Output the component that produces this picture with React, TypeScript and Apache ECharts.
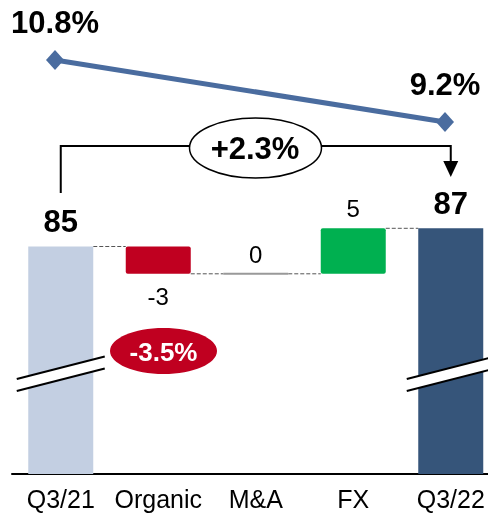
import React, { useEffect, useRef } from "react";
import * as echarts from "echarts";

const categories = ["Q3/21", "Organic", "M&A", "FX", "Q3/22"];
const values = [85, -3, 0, 5, 87];
const isTotal = [true, false, false, false, true];
const barColors = ["#C3CFE2", "#C00020", "#999999", "#00B050", "#36557A"];
const margins = [10.8, null, null, null, 9.2];
const growthLabel = "+2.3%";
const organicLabel = "-3.5%";

const AXIS_MIN = 60;
const AXIS_MAX = 100;
const FONT = "'Liberation Sans', Arial, sans-serif";

export default function App() {
  const ref = useRef<HTMLDivElement>(null);

  useEffect(() => {
    if (!ref.current) return;
    const chart = echarts.init(ref.current, null, { renderer: "svg" });

    // build waterfall rows: [index, start, end, value]
    let running = 0;
    const rows = values.map((v, i) => {
      let start: number, end: number;
      if (isTotal[i]) {
        start = AXIS_MIN;
        end = v;
        running = v;
      } else {
        start = running;
        end = running + v;
        running = end;
      }
      return [i, start, end, v];
    });

    const BW = 65;
    const renderItem = (params: any, api: any) => {
      const i = params.dataIndex;
      const cat = api.value(0);
      const start = api.value(1);
      const end = api.value(2);
      const val = api.value(3);
      const p0 = api.coord([cat, start]);
      const p1 = api.coord([cat, end]);
      const cx = p0[0];
      const x0 = cx - BW / 2;
      const yTop = Math.min(p0[1], p1[1]);
      const yBot = Math.max(p0[1], p1[1]);
      const children: any[] = [];
      // connector to next bar
      if (i < categories.length - 1) {
        const nx = api.coord([cat + 1, end])[0] - BW / 2;
        children.push({
          type: "line",
          shape: { x1: x0 + BW, y1: p1[1], x2: nx, y2: p1[1] },
          style: { stroke: "#555", lineWidth: 1, lineDash: [4, 2] },
        });
      }
      if (val === 0) {
        children.push({
          type: "line",
          shape: { x1: x0, y1: p1[1], x2: x0 + BW, y2: p1[1] },
          style: { stroke: barColors[i], lineWidth: 2 },
        });
      } else {
        children.push({
          type: "rect",
          shape: { x: x0, y: yTop, width: BW, height: yBot - yTop, r: isTotal[i] ? 0 : 2 },
          style: { fill: barColors[i] },
        });
      }
      // break marks on total bars
      if (isTotal[i]) {
        const l = cx - 44;
        const r = cx + 44;
        const a1 = yBot - 95;
        const b1 = yBot - 117.5;
        const g = 12;
        children.push({
          type: "polygon",
          shape: { points: [[l, a1], [r, b1], [r, b1 + g], [l, a1 + g]] },
          style: { fill: "#fff" },
        });
        children.push({
          type: "line",
          shape: { x1: l, y1: a1, x2: r, y2: b1 },
          style: { stroke: "#000", lineWidth: 2 },
        });
        children.push({
          type: "line",
          shape: { x1: l, y1: a1 + g, x2: r, y2: b1 + g },
          style: { stroke: "#000", lineWidth: 2 },
        });
      }
      // value label
      let ly: number;
      if (isTotal[i]) ly = yTop - 25;
      else if (val > 0) ly = yTop - 20;
      else if (val < 0) ly = yBot + 23;
      else ly = p1[1] - 19;
      children.push({
        type: "text",
        x: cx,
        y: ly,
        style: {
          text: String(val),
          fill: "#000",
          fontSize: isTotal[i] ? 31 : 24,
          fontWeight: isTotal[i] ? "bold" : "normal",
          fontFamily: FONT,
          align: "center",
          verticalAlign: "middle",
        },
      });
      return { type: "group", children };
    };

    const option: any = {
      animation: false,
      grid: [
        { left: 12, top: 110, width: 487.5, height: 364, outerBoundsMode: "none", containLabel: false },
        { left: 6.25, top: 52.25, width: 487.5, height: 77.5, outerBoundsMode: "none", containLabel: false },
      ],
      xAxis: [
        {
          type: "category",
          data: categories,
          gridIndex: 0,
          axisLine: { lineStyle: { color: "#000", width: 2 } },
          axisTick: { show: false },
          axisLabel: { interval: 0, fontSize: 25, color: "#000", margin: 12, fontFamily: FONT, hideOverlap: false },
        },
        { type: "category", data: categories, gridIndex: 1, show: false },
      ],
      yAxis: [
        { type: "value", min: AXIS_MIN, max: AXIS_MAX, show: false, gridIndex: 0, splitLine: { show: false } },
        { type: "value", min: 9, max: 11, show: false, gridIndex: 1, splitLine: { show: false } },
      ],
      series: [
        {
          type: "custom",
          xAxisIndex: 0,
          yAxisIndex: 0,
          renderItem,
          data: rows,
          clip: false,
        },
        {
          type: "line",
          xAxisIndex: 1,
          yAxisIndex: 1,
          data: margins,
          connectNulls: true,
          symbol: "diamond",
          symbolSize: [18, 20],
          lineStyle: { color: "#4A6C9F", width: 5 },
          itemStyle: { color: "#4A6C9F" },
          label: {
            show: true,
            position: "top",
            distance: 12,
            formatter: (p: any) => `${p.value}%`,
            fontSize: 31,
            fontWeight: "bold",
            color: "#000",
            fontFamily: FONT,
          },
        },
      ],
    };
    chart.setOption(option);

    const pL = chart.convertToPixel({ gridIndex: 0 }, [0, values[0]]) as number[];
    const pR = chart.convertToPixel({ gridIndex: 0 }, [categories.length - 1, values[4]]) as number[];
    const xL = pL[0];
    const xR = pR[0];
    const yH = 146;
    chart.setOption({
      graphic: [
        {
          type: "polyline",
          shape: { points: [[xL, 193], [xL, yH], [xR, yH], [xR, 162]] },
          style: { stroke: "#000", lineWidth: 2, fill: null },
          z: 10,
        },
        {
          type: "polygon",
          shape: { points: [[xR - 7.5, 161], [xR + 7.5, 161], [xR, 177]] },
          style: { fill: "#000" },
          z: 10,
        },
        {
          type: "ellipse",
          shape: { cx: 255.5, cy: 148, rx: 66, ry: 30 },
          style: { fill: "#fff", stroke: "#000", lineWidth: 1.5 },
          z: 11,
        },
        {
          type: "text",
          x: 255,
          y: 148,
          style: {
            text: growthLabel,
            fill: "#000",
            fontSize: 31,
            fontWeight: "bold",
            fontFamily: FONT,
            align: "center",
            verticalAlign: "middle",
          },
          z: 12,
        },
        {
          type: "ellipse",
          shape: { cx: 163.5, cy: 351, rx: 53.5, ry: 23 },
          style: { fill: "#C00020" },
          z: 11,
        },
        {
          type: "text",
          x: 163.5,
          y: 352,
          style: {
            text: organicLabel,
            fill: "#fff",
            fontSize: 26,
            fontWeight: "bold",
            fontFamily: FONT,
            align: "center",
            verticalAlign: "middle",
          },
          z: 12,
        },
      ],
    });

    return () => chart.dispose();
  }, []);

  return (
    <div
      ref={ref}
      style={{ position: "fixed", left: 0, top: 0, width: 488, height: 514 }}
    />
  );
}
